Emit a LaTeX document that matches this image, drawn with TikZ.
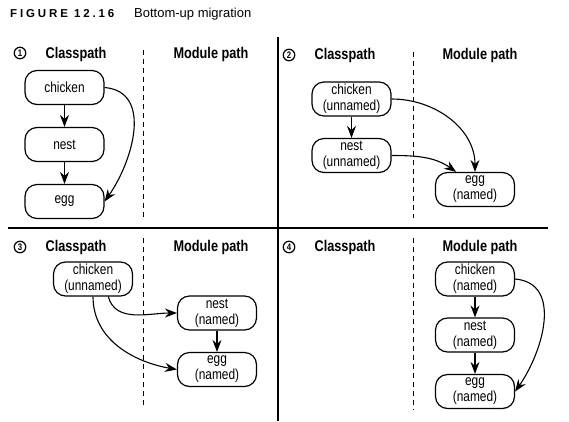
\documentclass[tikz,border=0pt]{standalone}
\usepackage{fontspec}
\setmainfont{Liberation Sans}
\newfontfamily\narrowfont{Liberation Sans}[FakeStretch=0.82]
\usepackage{tikz}
\usetikzlibrary{arrows.meta,positioning}
\newcommand{\nodefont}{\narrowfont\fontsize{14.5}{16}\selectfont}
\newcommand{\headfont}{\narrowfont\bfseries\fontsize{15.5}{17}\selectfont}
\tikzset{
  box/.style={draw, line width=1.2pt, rounded corners=12pt, minimum width=79pt,
    minimum height=34pt, inner sep=0pt, align=center, font=\nodefont},
  head/.style={font=\headfont},
  num/.style={draw, circle, line width=1.2pt, inner sep=0pt, minimum size=11.5pt,
    font=\narrowfont\bfseries\fontsize{9.5}{9.5}\selectfont},
  arr/.style={-{Stealth[length=12pt,width=9pt,inset=4pt]}, line width=1.1pt},
  divider/.style={line width=1.3pt},
  split/.style={line width=1pt, dash pattern=on 5pt off 4pt}
}
\begin{document}
\begin{tikzpicture}[x=1pt,y=-1pt]
            \useasboundingbox (0,0) rectangle (569,421);
            % Caption
            \node[anchor=base west, inner sep=0pt, font=\bfseries\addfontfeatures{LetterSpace=25}\fontsize{11.5}{13}\selectfont] (fig) at (10,17) {FIGURE 12.16};
            \node[anchor=base west, inner sep=0pt, font=\fontsize{13}{15}\selectfont] (cap) at (134,17) {Bottom-up migration};

            % Frame
            \draw[divider] (278,37) -- (278,421);
            \draw[divider] (8,228) -- (548,228);
            \draw[split] (143,50) -- (143,218);
            \draw[split] (413,52) -- (413,218);
            \draw[split] (143,238) -- (143,408);
            \draw[split] (413,238) -- (413,410);

            % Panel 1
            \node[num] (k1) at (20,53) {1};
            \node[head] (cp1) at (76,54) {Classpath};
            \node[head] (mp1) at (211,54) {Module path};
            \node[box] (c1) at (64.5,87.5) {chicken};
            \node[box] (n1) at (64.5,144.5) {nest};
            \node[box] (e1) at (64.5,201.5) {egg};
            \draw[arr] (c1) -- (n1);
            \draw[arr] (n1) -- (e1);
            \draw[arr] (c1.east) to[out=-5,in=55,looseness=1.1] (e1.east);

            % Panel 2
            \node[num] (k2) at (289,55) {2};
            \node[head] (cp2) at (345,55) {Classpath};
            \node[head] (mp2) at (480,55) {Module path};
            \node[box] (c2) at (351.5,99) {chicken\\(unnamed)};
            \node[box] (n2) at (351.5,155.5) {nest\\(unnamed)};
            \node[box] (e2) at (475,189.5) {egg\\(named)};
            \draw[arr] (c2) -- (n2);
            \draw[arr] (c2.east) to[out=0,in=90] (e2.north);
            \draw[arr] (n2.east) to[out=0,in=145] (e2.137);

            % Panel 3
            \node[num] (k3) at (20,247) {3};
            \node[head] (cp3) at (76,247) {Classpath};
            \node[head] (mp3) at (211,247) {Module path};
            \node[box] (c3) at (93,279) {chicken\\(unnamed)};
            \node[box] (n3) at (217,313) {nest\\(named)};
            \node[box] (e3) at (217,369.5) {egg\\(named)};
            \draw[arr] (n3) -- (e3);
            \draw[arr] (c3.-49) to[out=-75,in=180] (n3.west);
            \draw[arr] (c3.south) to[out=-90,in=170] (e3.west);

            % Panel 4
            \node[num] (k4) at (289,247) {4};
            \node[head] (cp4) at (345,247) {Classpath};
            \node[head] (mp4) at (480,247) {Module path};
            \node[box] (c4) at (475,279) {chicken\\(named)};
            \node[box] (n4) at (475,335) {nest\\(named)};
            \node[box] (e4) at (475,391.5) {egg\\(named)};
            \draw[arr] (c4) -- (n4);
            \draw[arr] (n4) -- (e4);
            \draw[arr] (c4.east) to[out=-5,in=55,looseness=1.1] (e4.east);
\end{tikzpicture}
\end{document}
